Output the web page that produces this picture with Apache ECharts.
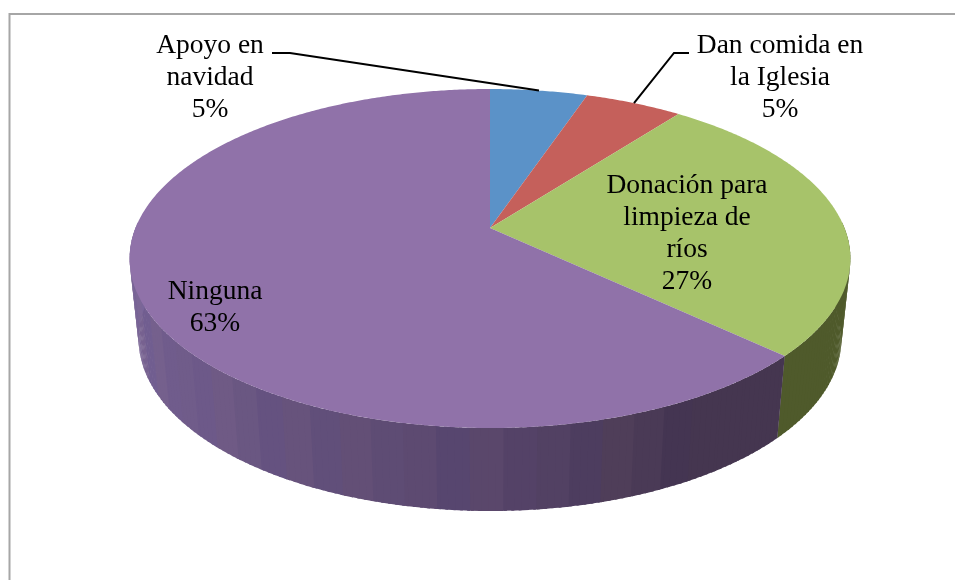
<!DOCTYPE html>
<html><head><meta charset="utf-8">
<style>html,body{margin:0;padding:0;background:#fff}#c{width:955px;height:580px}</style>
<script src="https://cdn.jsdelivr.net/npm/echarts@6/dist/echarts.min.js"></script>
</head><body><div id="c"></div>
<script>
// ---- data ----
const categories = ['Apoyo en navidad', 'Dan comida en la Iglesia', 'Donación para limpieza de ríos', 'Ninguna'];
const values = [5.2, 5.2, 26.6, 63.0];
const wrappedNames = ['Apoyo en\nnavidad', 'Dan comida en\nla Iglesia', 'Donación para\nlimpieza de\nríos', 'Ninguna'];
// ---- styles ----
const topColors = ['#5b92c8', '#c5605b', '#a7c36a', '#9072a9'];
const greenWall = '#4f5a2b';
const purpleWallStops = [[130, '#453650'], [152, '#453650'], [180, '#57456b'], [225, '#6e5a88'], [270, '#7c6799']];
const bandTint = [0, 3, -2, 2, -3, 1, 4, -2, 1, -1, 3, -3, 2];
const labelCentres = [[210, 77.5], [780, 77.5], [687, 233.5], [215, 307.5]];
const elbowPoints = [[[272, 53], [290, 53]], [[689, 53], [674, 53]], null, null];
// ---- perspective pie geometry ----
const apex = [490, 228], RX = 354.5, RY = 164, K = 0.18;
const WALL_SCALE_X = 0.975, WALL_SCALE_Y = 1.015, WALL_DROP = 80;
const BAND_DEG = 4.5;
function topPt(deg) {
  const a = deg * Math.PI / 180, u = Math.sin(a), v = Math.cos(a), d = 1 + K * v;
  return [apex[0] + RX * u / d, apex[1] - RY * v / d];
}
function botPt(deg) {
  const p = topPt(deg);
  return [apex[0] + (p[0] - apex[0]) * WALL_SCALE_X, apex[1] + (p[1] - apex[1]) * WALL_SCALE_Y + WALL_DROP];
}
const total = values.reduce((s, x) => s + x, 0);
let run = 0;
const rows = values.map((v, i) => { const r = [i, run / total * 360, (run + v) / total * 360, Math.round(v)]; run += v; return r; });
function hex(c) { return [1, 3, 5].map(i => parseInt(c.substr(i, 2), 16)); }
function purpleColor(deg, bandIdx) {
  const st = purpleWallStops;
  let c = hex(st[st.length - 1][1]);
  if (deg <= st[0][0]) c = hex(st[0][1]);
  else for (let k = 0; k < st.length - 1; k++) {
    if (deg >= st[k][0] && deg <= st[k + 1][0]) {
      const f = (deg - st[k][0]) / (st[k + 1][0] - st[k][0]);
      const a = hex(st[k][1]), b = hex(st[k + 1][1]);
      c = a.map((x, j) => x + (b[j] - x) * f);
      break;
    }
  }
  const t = deg < 150 ? 0 : bandTint[bandIdx % bandTint.length];
  return 'rgb(' + Math.round(c[0] + t * 0.8) + ',' + Math.round(c[1] + t * 0.5) + ',' + Math.round(c[2] - t * 0.2) + ')';
}
function strips(from, to, fill, out) {
  // each strip overlaps the next, so no seam shows and the outline stays the hull of the strips
  for (let d = from; d < to; d += 1) {
    const e = Math.min(d + 1.4, to);
    out.push({ type: 'polygon', silent: true, shape: { points: [topPt(d), topPt(e), botPt(e), botPt(d)] }, style: { fill } });
  }
}
function renderWall(params, api) {
  const i = api.value(0), from = Math.max(api.value(1), 88), to = Math.min(api.value(2), 272);
  const children = [];
  if (to <= from) return { type: 'group', children };
  if (i !== 3) { strips(from, to, greenWall, children); return { type: 'group', children }; }
  let n = 0;
  for (let d = from; d < to; d += BAND_DEG, n++) {
    strips(d, Math.min(d + BAND_DEG + 0.4, to), purpleColor(d + BAND_DEG / 2, n), children);
  }
  return { type: 'group', children };
}
function renderTop(params, api) {
  const i = api.value(0), from = api.value(1), to = api.value(2);
  const pts = [apex.slice()];
  for (let d = from; d < to; d += 0.5) pts.push(topPt(d));
  pts.push(topPt(to));
  return { type: 'polygon', silent: true, shape: { points: pts }, style: { fill: topColors[i] } };
}
function renderLabel(params, api) {
  const i = api.value(0), mid = (api.value(1) + api.value(2)) / 2;
  const children = [{
    type: 'text', silent: true,
    style: { text: wrappedNames[i] + '\n' + api.value(3) + '%', x: labelCentres[i][0], y: labelCentres[i][1],
      align: 'center', verticalAlign: 'middle', lineHeight: 32,
      font: '27.5px "Liberation Serif", serif', fill: '#000' }
  }];
  if (elbowPoints[i]) {
    children.push({ type: 'polyline', silent: true,
      shape: { points: elbowPoints[i].concat([topPt(mid)]) },
      style: { stroke: '#000', lineWidth: 2, fill: null } });
  }
  return { type: 'group', children };
}
const chart = echarts.init(document.getElementById('c'), null, { renderer: 'canvas' });
chart.setOption({
  animation: false,
  backgroundColor: '#fff',
  graphic: [{ type: 'polyline', silent: true, shape: { points: [[9.5, 580], [9.5, 14], [955, 14]] },
    style: { stroke: '#a6a6a6', lineWidth: 2, fill: null } }],
  series: [
    { type: 'custom', coordinateSystem: 'none', name: 'walls', z: 2, data: rows, renderItem: renderWall },
    { type: 'custom', coordinateSystem: 'none', name: 'tops', z: 3, data: rows, renderItem: renderTop },
    { type: 'custom', coordinateSystem: 'none', name: 'labels', z: 4, data: rows, renderItem: renderLabel }
  ]
});
</script></body></html>
